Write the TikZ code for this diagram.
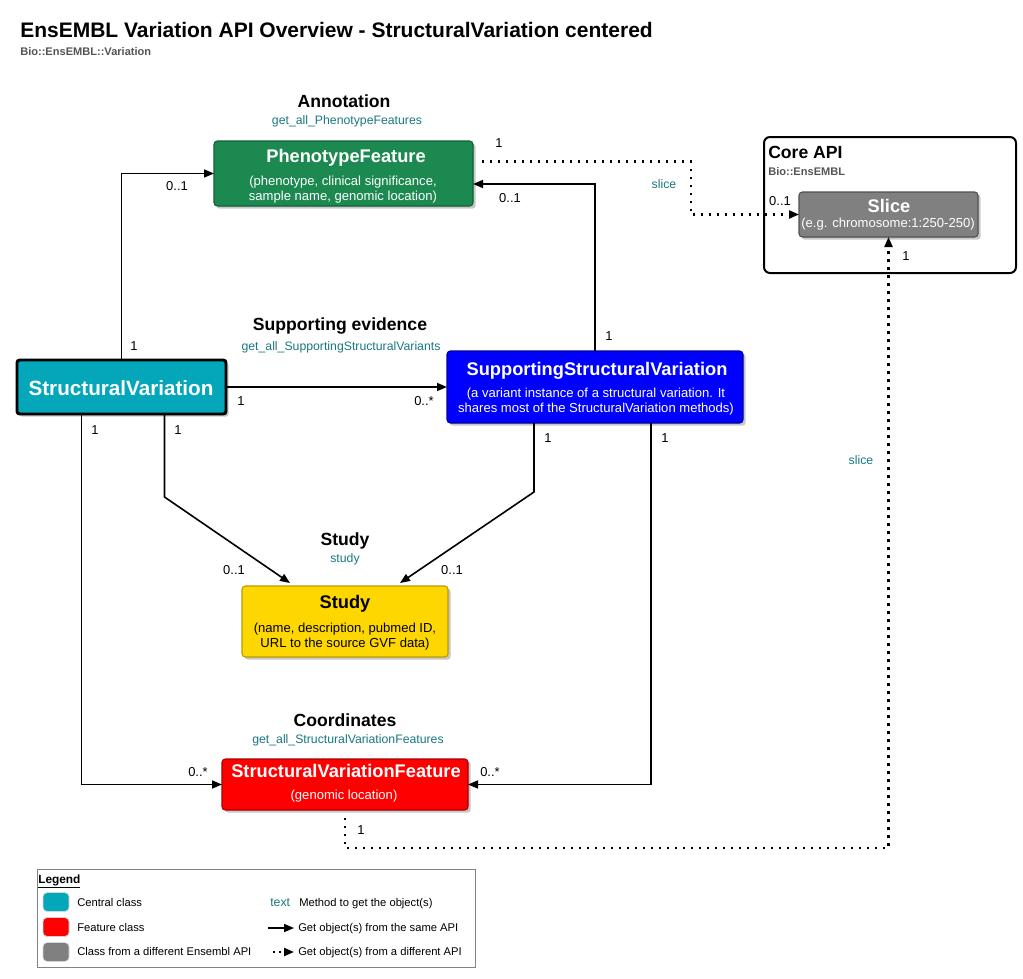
\documentclass[tikz,border=0pt]{standalone}
\usepackage{fontspec}
\setmainfont{Liberation Sans}
\usetikzlibrary{arrows.meta,shadows,calc}
\definecolor{pfgreen}{RGB}{28,138,80}
\definecolor{pfdark}{RGB}{18,95,55}
\definecolor{svteal}{RGB}{4,166,186}
\definecolor{ssvblue}{RGB}{0,0,255}
\definecolor{ssvdark}{RGB}{0,0,160}
\definecolor{stgold}{RGB}{255,215,0}
\definecolor{stdark}{RGB}{185,155,0}
\definecolor{svfred}{RGB}{255,0,0}
\definecolor{svfdark}{RGB}{165,0,0}
\definecolor{slgray}{RGB}{128,128,128}
\definecolor{sldark}{RGB}{80,80,80}
\definecolor{methc}{RGB}{26,120,130}
\definecolor{subgray}{RGB}{85,85,85}
\definecolor{leggray}{RGB}{130,130,130}
\tikzset{
  box/.style={rectangle, rounded corners=2.5pt, inner sep=0pt, outer sep=0pt, line width=0.8pt,
    drop shadow={shadow xshift=2pt, shadow yshift=-2pt, fill=black, opacity=0.22}},
  ttl/.style={font=\bfseries\fontsize{15.75pt}{18pt}\selectfont, anchor=base west, inner sep=0pt},
  subttl/.style={font=\bfseries\fontsize{8.3pt}{10pt}\selectfont, text=subgray, anchor=base west, inner sep=0pt},
  hd/.style={font=\bfseries\fontsize{13.2pt}{16pt}\selectfont, anchor=base, inner sep=0pt},
  mth/.style={font=\fontsize{9.2pt}{11pt}\selectfont, text=methc, anchor=base, inner sep=0pt},
  bt/.style={font=\bfseries\fontsize{13.7pt}{16pt}\selectfont, text=white, anchor=base, inner sep=0pt},
  st/.style={font=\fontsize{9.8pt}{12pt}\selectfont, text=white, anchor=base, inner sep=0pt},
  lbl/.style={font=\fontsize{9.7pt}{12pt}\selectfont, inner sep=0pt},
  lg/.style={font=\fontsize{8.4pt}{10pt}\selectfont, anchor=base west, inner sep=0pt},
  arr/.style={draw, line width=1.2pt, -{Triangle[length=7.5pt,width=6pt]}},
  darr/.style={draw, line width=1.6pt, dash pattern=on 1.6pt off 4.4pt,
    -{Triangle[length=7.5pt,width=6pt]}},
  swatch/.style={rectangle, rounded corners=3pt, inner sep=0pt, minimum width=19.5pt, minimum height=14pt, draw=white!85!black, line width=0.4pt}
}
\begin{document}
\begin{tikzpicture}[x=0.75pt,y=-0.75pt]
\useasboundingbox[fill=white] (0,0) rectangle (1023,978);

% title
\node[ttl] (title) at (20,37) {EnsEMBL Variation API Overview - StructuralVariation centered};
\node[subttl] (subtitle) at (20,55) {Bio::EnsEMBL::Variation};

% Core API container
\node[rectangle, rounded corners=4.5pt, draw=black, line width=1.5pt, minimum width=189pt, minimum height=102pt, inner sep=0pt] (core) at (890,205) {};
\node[font=\bfseries\fontsize{13.2pt}{16pt}\selectfont, anchor=base west, inner sep=0pt] (coret) at (768,158) {Core API};
\node[subttl] (cores) at (768,175) {Bio::EnsEMBL};

% Slice
\node[box, fill=slgray, draw=sldark, minimum width=134.25pt, minimum height=33.75pt] (slice) at (888.5,214.5) {};
\node[bt] (slicet) at (889,212) {Slice};
\node[st] (slices) at (888,227) {(e.g. chromosome:1:250-250)};

% PhenotypeFeature
\node[hd] (annh) at (344,107) {Annotation};
\node[mth] (annm) at (347,124) {get\_all\_PhenotypeFeatures};
\node[box, fill=pfgreen, draw=pfdark, minimum width=194.25pt, minimum height=48.75pt] (pf) at (343.5,173.5) {};
\node[bt] (pft) at (346,162) {PhenotypeFeature};
\node[st] (pfs1) at (343,185) {(phenotype, clinical significance,};
\node[st] (pfs2) at (343,200) {sample name, genomic location)};

% StructuralVariation
\node[box, fill=svteal, draw=black, line width=2.2pt, rounded corners=2pt, minimum width=156.75pt, minimum height=40.5pt] (sv) at (121.5,387) {};
\node[font=\bfseries\fontsize{15.5pt}{18pt}\selectfont, text=white, anchor=base, inner sep=0pt] (svt) at (121,395) {StructuralVariation};

% SupportingStructuralVariation
\node[hd] (suph) at (340,330) {Supporting evidence};
\node[mth] (supm) at (341,350) {get\_all\_SupportingStructuralVariants};
\node[box, fill=ssvblue, draw=ssvdark, minimum width=222pt, minimum height=54pt] (ssv) at (595,387) {};
\node[bt] (ssvt) at (597,375) {SupportingStructuralVariation};
\node[st] (ssvs1) at (596,397) {(a variant instance of a structural variation. It};
\node[st] (ssvs2) at (596,412) {shares most of the StructuralVariation methods)};

% Study
\node[hd] (sth) at (345,545) {Study};
\node[mth] (stm) at (345,562) {study};
\node[box, fill=stgold, draw=stdark, minimum width=154.5pt, minimum height=53.25pt] (st) at (345,621.5) {};
\node[bt, text=black] (stt) at (345,608) {Study};
\node[st, text=black] (sts1) at (345,632) {(name, description, pubmed ID,};
\node[st, text=black] (sts2) at (345,647) {URL to the source GVF data)};

% StructuralVariationFeature
\node[hd] (coh) at (345,726) {Coordinates};
\node[mth] (com) at (348,743) {get\_all\_StructuralVariationFeatures};
\node[box, fill=svfred, draw=svfdark, minimum width=184.5pt, minimum height=38.25pt] (svf) at (345,784.5) {};
\node[bt] (svft) at (346,777) {StructuralVariationFeature};
\node[st] (svfs) at (344,799) {(genomic location)};

% connectors
\draw[arr] (sv.north) |- (pf.west);
\node[lbl] (l1) at (134,346) {1};
\node[lbl] (l2) at (177,186) {0..1};

\draw[arr] (ssv.north) |- ($(pf.east)+(0,10.5)$);
\node[lbl] (l3) at (609,336) {1};
\node[lbl] (l4) at (510,198) {0..1};

\draw[darr] ($(pf.east)+(9,-12)$) -- ++(209,0) |- (slice.west);
\node[lbl] (l5) at (499,143) {1};
\node[mth, anchor=center] (m1) at (664,184) {slice};
\node[lbl] (l6) at (780,201) {0..1};

\draw[arr] (sv.east) -- (ssv.west);
\node[lbl] (l7) at (241,401) {1};
\node[lbl] (l8) at (424,401) {0..*};

\draw[arr] ($(sv.south)+(43,0)$) -- ++(0,83) -- ($(st.north)+(-55,-3)$);
\node[lbl] (l9) at (178,430) {1};
\node[lbl] (l10) at (234,570) {0..1};

\draw[arr] ($(ssv.south)+(-61,0)$) -- ++(0,69) -- ($(st.north)+(55,-3)$);
\node[lbl] (l11) at (548,438) {1};
\node[lbl] (l12) at (452,570) {0..1};

\draw[arr] ($(sv.south)+(-40,0)$) |- (svf.west);
\node[lbl] (l13) at (95,430) {1};
\node[lbl] (l14) at (198,772) {0..*};

\draw[arr] ($(ssv.south)+(56,0)$) |- (svf.east);
\node[lbl] (l15) at (665,438) {1};
\node[lbl] (l16) at (490,772) {0..*};

\draw[darr] ($(svf.south)+(0,8)$) -- ++(0,30) -| (slice.south);
\node[lbl] (l17) at (361,830) {1};
\node[mth, anchor=center] (m2) at (861,460) {slice};
\node[lbl] (l18) at (906,256) {1};

% legend
\node[rectangle, draw=leggray, line width=0.6pt, minimum width=328.5pt, minimum height=73.5pt, inner sep=0pt] (legend) at (256,918) {};
\node[font=\bfseries\fontsize{8.9pt}{10pt}\selectfont, anchor=base west, inner sep=0pt] (legt) at (38,883) {\underline{Legend}};
\node[swatch, fill=svteal] (sw1) at (56,902) {};
\node[swatch, fill=svfred] (sw2) at (56,927) {};
\node[swatch, fill=slgray] (sw3) at (56,952) {};
\node[lg] (lt1) at (77,906) {Central class};
\node[lg] (lt2) at (77,931) {Feature class};
\node[lg] (lt3) at (77,955) {Class from a different Ensembl API};
\node[mth, anchor=base west, font=\fontsize{9.2pt}{11pt}\selectfont] (lm) at (270,906) {text};
\node[lg] (lt4) at (299,906) {Method to get the object(s)};
\coordinate (la1) at (268,928);
\coordinate (la2) at (294,928);
\draw[arr] (la1) -- (la2);
\node[lg] (lt5) at (298,931) {Get object(s) from the same API};
\coordinate (lb1) at (273,952);
\coordinate (lb2) at (294,952);
\draw[darr, dash pattern=on 1.6pt off 3pt] (lb1) -- (lb2);
\node[lg] (lt6) at (298,955) {Get object(s) from a different API};
\end{tikzpicture}
\end{document}
